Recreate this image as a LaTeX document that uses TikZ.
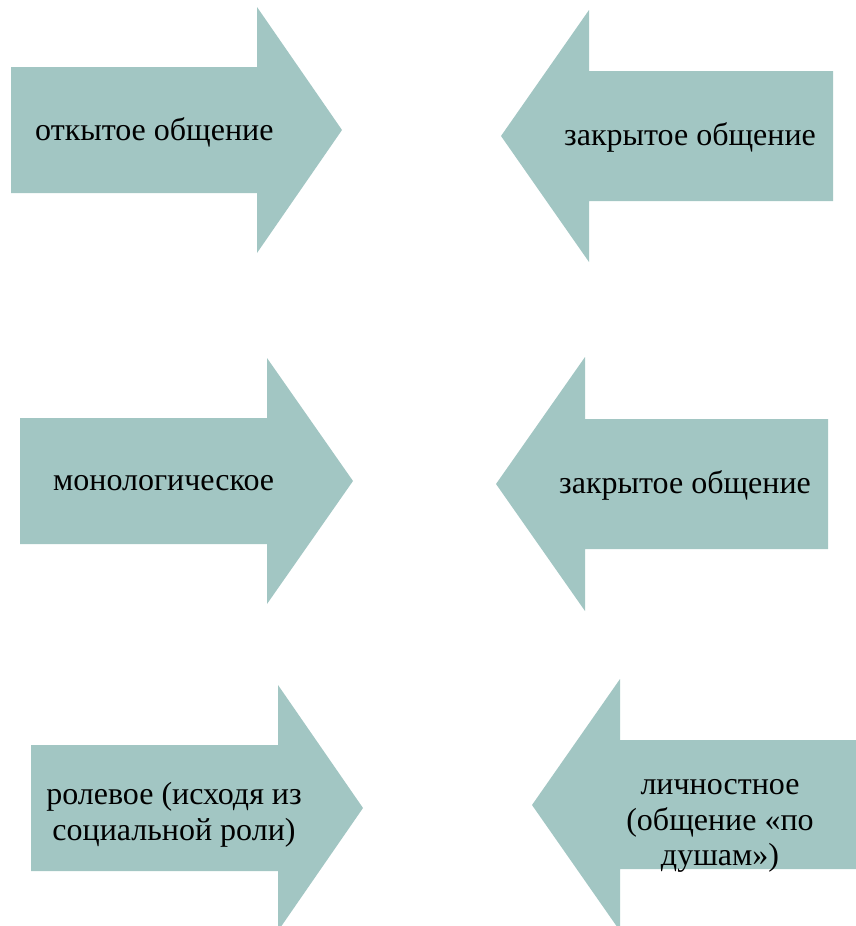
\documentclass[tikz,border=0pt]{standalone}
\usepackage{fontspec}
\setmainfont{Liberation Serif}
\definecolor{arrowcol}{HTML}{A2C6C3}
\begin{document}
\begin{tikzpicture}[x=1pt,y=-1pt,
  arrowfill/.style={fill=arrowcol,draw=none},
  lbl/.style={inner sep=0pt,anchor=base west,font=\fontsize{32}{35.5}\selectfont},
  mlbl/.style={inner sep=0pt,align=center,font=\fontsize{32}{35.5}\selectfont}]
\useasboundingbox (0,0) rectangle (856,926);
\clip (0,0) rectangle (856,926);
% arrows
\fill[arrowfill] (11,67) -- (257,67) -- (257,7) -- (342,130) -- (257,253) -- (257,193) -- (11,193) -- cycle;
\fill[arrowfill] (833,71) -- (589,71) -- (589,10) -- (501,136) -- (589,262) -- (589,201) -- (833,201) -- cycle;
\fill[arrowfill] (20,418) -- (267,418) -- (267,358) -- (353,481) -- (267,604) -- (267,544) -- (20,544) -- cycle;
\fill[arrowfill] (828,419) -- (585,419) -- (585,357) -- (496,484) -- (585,611) -- (585,549) -- (828,549) -- cycle;
\fill[arrowfill] (31,745) -- (278,745) -- (278,685) -- (363,808) -- (278,931) -- (278,871) -- (31,871) -- cycle;
\fill[arrowfill] (860,740) -- (620,740) -- (620,679) -- (532,805) -- (620,931) -- (620,869) -- (860,869) -- cycle;
% labels
\node[lbl] (t1) at (35,140) {откытое общение};
\node[lbl] (t2) at (564,145) {закрытое общение};
\node[lbl] (t3) at (53,490) {монологическое};
\node[lbl] (t4) at (559,493) {закрытое общение};
\node[mlbl] (t5) at (174,815) {ролевое (исходя из\\социальной роли)};
\node[mlbl] (t6) at (720,826) {личностное\\(общение «по\\душам»)};
\end{tikzpicture}
\end{document}
